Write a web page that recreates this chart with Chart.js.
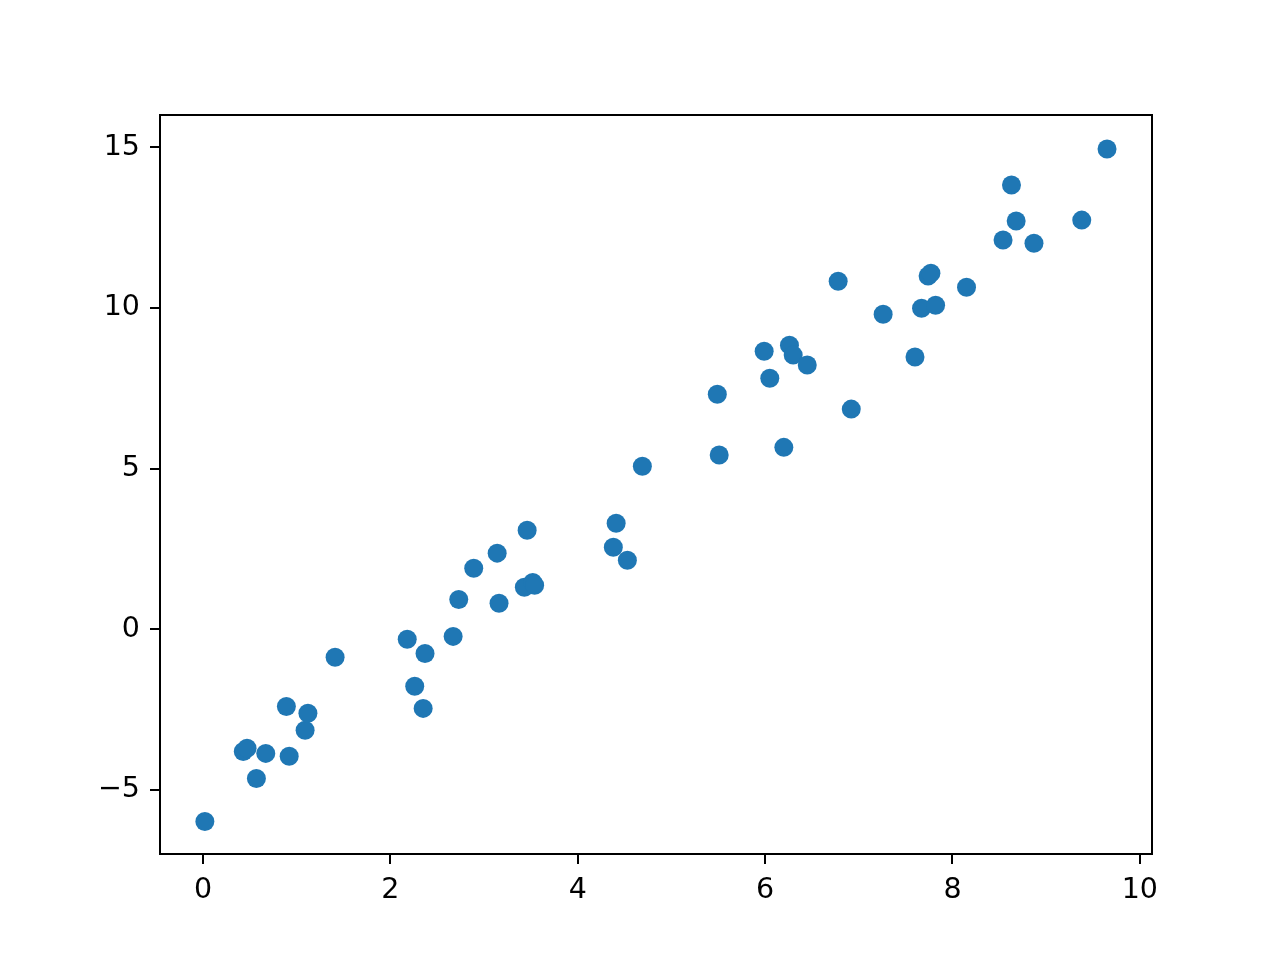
<!DOCTYPE html>
<html>
<head>
<meta charset="utf-8">
<script src="https://cdn.jsdelivr.net/npm/chart.js@4/dist/chart.umd.min.js"></script>
<style>
html,body{margin:0;padding:0;background:#fff;}
#wrap{width:1280px;height:960px;position:relative;}
</style>
</head>
<body>
<div id="wrap"><canvas id="c" width="1280" height="960"></canvas></div>
<script>
const xValues = [0.02,0.43,0.47,0.57,0.67,0.89,0.92,1.09,1.12,1.41,2.18,2.26,2.35,2.37,2.67,2.73,2.89,3.14,3.16,3.43,3.46,3.52,3.54,4.38,4.41,4.53,4.69,5.49,5.51,5.99,6.05,6.20,6.26,6.30,6.45,6.78,6.92,7.26,7.60,7.67,7.74,7.77,7.82,8.15,8.54,8.63,8.68,8.87,9.38,9.65];
const yValues = [-5.98,-3.80,-3.70,-4.64,-3.86,-2.40,-3.95,-3.14,-2.61,-0.87,-0.31,-1.77,-2.46,-0.75,-0.22,0.93,1.90,2.37,0.81,1.31,3.08,1.46,1.37,2.55,3.30,2.15,5.07,7.31,5.42,8.65,7.81,5.66,8.84,8.53,8.22,10.83,6.85,9.80,8.47,9.99,10.99,11.08,10.08,10.64,12.11,13.82,12.70,12.01,12.73,14.94];
const xTicks = [0,2,4,6,8,10];
const yTicks = [-5,0,5,10,15];

const frame = {
  id:'frame',
  afterDraw(chart){
    const a = chart.chartArea, ctx = chart.ctx;
    ctx.save();
    ctx.strokeStyle = '#000';
    ctx.lineWidth = 2;
    ctx.strokeRect(a.left, a.top, a.right - a.left, a.bottom - a.top);
    ctx.restore();
  }
};
const fmt = v => String(v).replace('-', '\u2212');
const font = {family:'"DejaVu Sans", sans-serif', size:28.5};

new Chart(document.getElementById('c'), {
  type:'scatter',
  data:{datasets:[{
    data: xValues.map((x,i)=>({x:x, y:yValues[i]})),
    backgroundColor:'#1f77b4',
    borderColor:'#1f77b4',
    borderWidth:0,
    pointRadius:9.5,
    pointHoverRadius:9.5
  }]},
  options:{
    responsive:false,
    animation:false,
    events:[],
    layout:{padding:{left:0,top:115,right:128,bottom:0}},
    plugins:{legend:{display:false},tooltip:{enabled:false}},
    scales:{
      x:{
        type:'linear', min:-0.459, max:10.13,
        afterBuildTicks: s => { s.ticks = xTicks.map(v=>({value:v})); },
        afterFit: s => { s.height = 106; },
        grid:{drawOnChartArea:false, drawTicks:true, tickLength:10, color:'#000', lineWidth:2},
        border:{display:true, color:'#000', width:2},
        ticks:{color:'#000', font:font, padding:9, maxRotation:0, callback: v => fmt(v)}
      },
      y:{
        type:'linear', min:-6.99, max:16.0,
        afterBuildTicks: s => { s.ticks = yTicks.map(v=>({value:v})); },
        afterFit: s => { s.width = 160; },
        grid:{drawOnChartArea:false, drawTicks:true, tickLength:10, color:'#000', lineWidth:2},
        border:{display:true, color:'#000', width:2},
        ticks:{color:'#000', font:font, padding:10, callback: v => fmt(v)}
      }
    }
  },
  plugins:[frame]
});
</script>
</body>
</html>
